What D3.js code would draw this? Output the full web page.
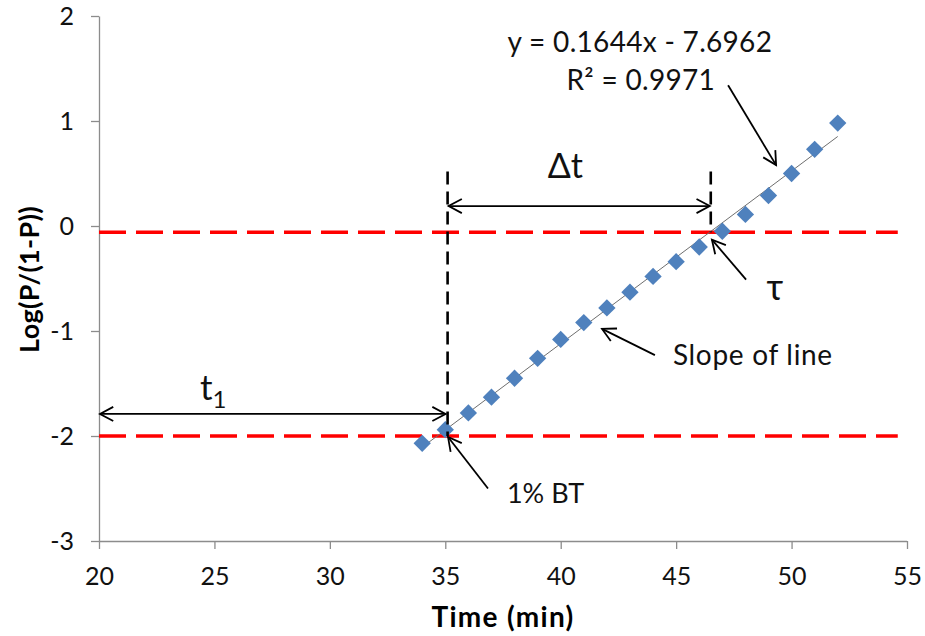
<!DOCTYPE html>
<html>
<head>
<meta charset="utf-8">
<script src="https://cdn.jsdelivr.net/npm/d3@7"></script>
<style>
  html, body { margin: 0; padding: 0; background: #fff; }
  svg { display: block; font-family: Lato, "Open Sans", sans-serif; }
</style>
</head>
<body>
<svg id="chart" width="925" height="636"></svg>
<script>
// Breakthrough data: time (min) vs. log(P/(1-P))
const times  = [34, 35, 36, 37, 38, 39, 40, 41, 42, 43, 44, 45, 46, 47, 48, 49, 50, 51, 52];
const logitP = [-2.07, -1.94, -1.78, -1.63, -1.45, -1.26, -1.08, -0.92, -0.78, -0.63,
                -0.48, -0.34, -0.2, -0.05, 0.11, 0.29, 0.5, 0.73, 0.98];

// Linear fit reported on the chart
const slope = 0.1644;
const intercept = -7.6962;
const rSquared = 0.9971;

// Axis ticks
const xTicks = [20, 25, 30, 35, 40, 45, 50, 55];
const yTicks = [-3, -2, -1, 0, 1, 2];

// Reference levels and times
const breakLevel = -2;      // 1% breakthrough
const tauLevel = -0.06;     // level at tau
const tStart = 35.1;        // time of 1% BT
const tTau = 46.5;          // time tau
const guideTop = 0.52;      // top of the vertical guides
const redEnd = 54.6;        // right end of the red levels
const dtArrowY = 0.19;      // height of the delta-t arrow
const t1ArrowY = -1.79;     // height of the t1 arrow

// Pointer arrows [fromX, fromY, toX, toY]
const pointers = [
  [47.25, 1.34, 49.33, 0.58],   // equation -> fitted line
  [48.03, -0.51, 46.55, -0.13], // tau
  [44.08, -1.23, 41.79, -0.98], // slope of line
  [36.85, -2.5, 35.12, -2.01]   // 1% BT
];

const svg = d3.select("#chart");

const x = d3.scaleLinear().domain([20, 55]).range([99, 907]);
const y = d3.scaleLinear().domain([-3, 2]).range([541, 16]);

// Axes
const xAxis = d3.axisBottom(x).tickValues(xTicks).tickSize(8).tickPadding(18).tickSizeOuter(0);
const yAxis = d3.axisLeft(y).tickValues(yTicks).tickSize(8).tickPadding(17).tickSizeOuter(0)
  .tickFormat(d => String(d));

const gx = svg.append("g").attr("transform", `translate(0,${y(-3)})`).call(xAxis);
const gy = svg.append("g").attr("transform", `translate(${x(20)},0)`).call(yAxis);
[gx, gy].forEach(g => {
  g.selectAll("path, line").attr("stroke", "#8c8c8c").attr("stroke-width", 1.3);
  g.selectAll("text").attr("fill", "#111").style("font-size", "25px")
    .style("font-family", "Lato, sans-serif");
});
gy.selectAll("text").attr("dy", "0.34em");
gx.select(".domain").attr("d", `M${x(20)},0.5H${x(55)}`);

// Axis titles
svg.append("text")
  .attr("x", (x(20) + x(55)) / 2)
  .attr("y", 627)
  .attr("text-anchor", "middle")
  .style("font-size", "28px").style("font-weight", "bold").style("letter-spacing", "1.3px")
  .text("Time (min)");

svg.append("text")
  .attr("transform", `translate(39,${(y(2) + y(-3)) / 2 + 1}) rotate(-90)`)
  .attr("text-anchor", "middle")
  .style("font-size", "27px").style("font-weight", "bold").style("letter-spacing", "0.3px")
  .text("Log(P/(1-P))");

// Red reference levels
[breakLevel, tauLevel].forEach(lv => {
  svg.append("line")
    .attr("x1", x(20)).attr("x2", x(redEnd))
    .attr("y1", y(lv)).attr("y2", y(lv))
    .attr("stroke", "#ff0000").attr("stroke-width", 3.5)
    .attr("stroke-dasharray", "27,10");
});

// Fitted line over the data range
const fit = d => slope * d + intercept;
const xr = d3.extent(times);
svg.append("line")
  .attr("x1", x(xr[0])).attr("y1", y(fit(xr[0])))
  .attr("x2", x(xr[1])).attr("y2", y(fit(xr[1])))
  .attr("stroke", "#6e6e6e").attr("stroke-width", 1);

// Data points as diamonds
const diamond = d3.symbol().type(d3.symbolSquare).size(150);
svg.append("g").selectAll("path")
  .data(times.map((t, i) => [t, logitP[i]]))
  .join("path")
  .attr("d", diamond)
  .attr("transform", d => `translate(${x(d[0])},${y(d[1])}) rotate(45)`)
  .attr("fill", "#4f81bd");

// Vertical dashed guides
const guides = [[tStart, breakLevel], [tTau, tauLevel]];
guides.forEach(([t, lv]) => {
  svg.append("line")
    .attr("x1", x(t)).attr("x2", x(t))
    .attr("y1", y(guideTop)).attr("y2", y(lv))
    .attr("stroke", "#000").attr("stroke-width", 2.6)
    .attr("stroke-dasharray", "13,7");
});

// Open arrowhead helper
function arrowHead(g, x0, y0, x1, y1) {
  const ang = Math.atan2(y1 - y0, x1 - x0);
  const len = 15, spread = 28 * Math.PI / 180;
  const p1 = [x1 - len * Math.cos(ang - spread), y1 - len * Math.sin(ang - spread)];
  const p2 = [x1 - len * Math.cos(ang + spread), y1 - len * Math.sin(ang + spread)];
  g.append("path")
    .attr("d", `M${p1[0]},${p1[1]}L${x1},${y1}L${p2[0]},${p2[1]}`)
    .attr("fill", "none").attr("stroke", "#000").attr("stroke-width", 1.8);
}

function arrow(x0, y0, x1, y1, both) {
  const g = svg.append("g");
  g.append("line").attr("x1", x0).attr("y1", y0).attr("x2", x1).attr("y2", y1)
    .attr("stroke", "#000").attr("stroke-width", 1.8);
  arrowHead(g, x0, y0, x1, y1);
  if (both) arrowHead(g, x1, y1, x0, y0);
}

// Double-headed span arrows
arrow(x(tStart) + 1, y(dtArrowY), x(tTau) - 1, y(dtArrowY), true);
arrow(x(20) + 1, y(t1ArrowY), x(tStart) - 2, y(t1ArrowY), true);

// Pointer arrows
pointers.forEach(p => arrow(x(p[0]), y(p[1]), x(p[2]), y(p[3]), false));

// Labels
const fmt = d3.format(".4f");
svg.append("text")
  .attr("x", x(43.43)).attr("y", y(1.657))
  .attr("text-anchor", "middle").style("font-size", "28px").style("letter-spacing", "0.3px")
  .attr("fill", "#111")
  .text(`y = ${fmt(slope)}x - ${fmt(-intercept)}`);
svg.append("text")
  .attr("x", x(43.47)).attr("y", y(1.295))
  .attr("text-anchor", "middle").style("font-size", "28px").style("letter-spacing", "0.3px")
  .attr("fill", "#111")
  .text(`R² = ${fmt(rSquared)}`);

svg.append("text")
  .attr("x", x(40.2)).attr("y", y(0.457))
  .attr("text-anchor", "middle").style("font-size", "34px").attr("fill", "#111")
  .text("Δt");

svg.append("text")
  .attr("x", x(49.28)).attr("y", y(-0.705))
  .attr("text-anchor", "middle").style("font-size", "36px").attr("fill", "#111")
  .text("τ");

svg.append("text")
  .attr("x", x(44.86)).attr("y", y(-1.324))
  .style("font-size", "28px").style("letter-spacing", "0.7px").attr("fill", "#111")
  .text("Slope of line");

svg.append("text")
  .attr("x", x(37.67)).attr("y", y(-2.638))
  .style("font-size", "27px").attr("fill", "#111")
  .text("1% BT");

const t1 = svg.append("text")
  .attr("x", x(24.37)).attr("y", y(-1.657))
  .style("font-size", "35px").attr("fill", "#111");
t1.append("tspan").text("t");
t1.append("tspan").attr("dy", 8).style("font-size", "24px").text("1");
</script>
</body>
</html>
